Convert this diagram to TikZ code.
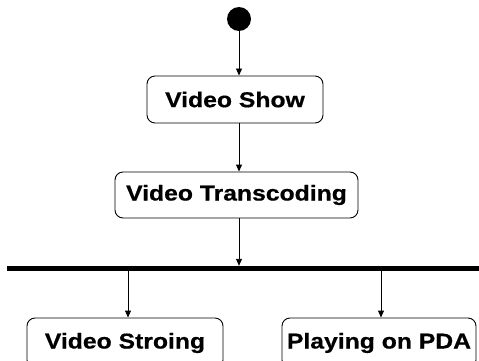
\documentclass[tikz,border=0pt]{standalone}
\usepackage{fontspec}
\setmainfont{Liberation Sans}[FakeStretch=1.15,FakeBold=0.6]
\usetikzlibrary{arrows.meta}
\tikzset{
  activity/.style={draw=black, line width=0.9pt, rounded corners=8pt,
    inner sep=0pt, font=\fontsize{21.5}{25}\selectfont\bfseries},
  flow/.style={draw=black, line width=0.9pt,
    -{Triangle[length=7pt,width=6pt]}},
}
\begin{document}
\begin{tikzpicture}[x=1pt,y=-1pt]
  \useasboundingbox (0,0) rectangle (479,361);
  \begin{scope}
    \clip (0,0) rectangle (479,361);
    % initial state
    \node[circle, fill=black, inner sep=0pt, minimum size=24pt] (start) at (239,19) {};
    % activities
    \node[activity, minimum width=176pt, minimum height=47pt] (show) at (235,99.5) {Video Show};
    \node[activity, minimum width=243pt, minimum height=46pt] (trans) at (236.5,195) {Video Transcoding};
    % fork bar
    \node[fill=black, inner sep=0pt, minimum width=472pt, minimum height=5pt] (bar) at (243,268.5) {};
    \node[activity, minimum width=196pt, minimum height=50pt] (store) at (125,343) {Video Stroing};
    \node[activity, minimum width=194pt, minimum height=50pt] (pda) at (379,343) {Playing on PDA};
    % transitions
    \draw[flow] (start.south) -- (start.south |- show.north);
    \draw[flow] (show.south -| start) -- (start |- trans.north);
    \draw[flow] (trans.south -| start) -- (start |- bar.north);
    \draw[flow] ([xshift=3pt]store.north |- bar.south) -- ([xshift=3pt]store.north);
    \draw[flow] ([xshift=2pt]pda.north |- bar.south) -- ([xshift=2pt]pda.north);
  \end{scope}
\end{tikzpicture}
\end{document}
